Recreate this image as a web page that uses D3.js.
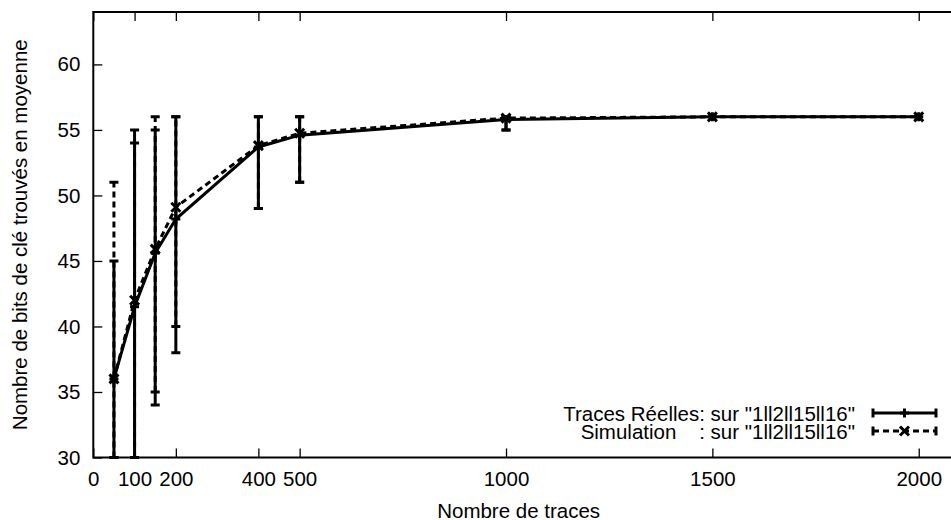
<!DOCTYPE html>
<html><head><meta charset="utf-8">
<script src="https://cdn.jsdelivr.net/npm/d3@7"></script>
<style>
html,body{margin:0;padding:0;background:#fff;}
svg{display:block;font-family:"Liberation Sans",Arial,Helvetica,sans-serif;}
</style></head>
<body>
<script>
// ---- data ----
const xValues   = [50, 100, 150, 200, 400, 500, 1000, 1500, 2000];
const realMean  = [36, 41.5, 45.6, 48.2, 53.7, 54.6, 55.8, 56, 56];
const realLow   = [30, 30, 34, 38, 49, 51, 55, 56, 56];
const realHigh  = [45, 55, 55, 56, 56, 56, 56, 56, 56];
const simMean   = [36, 42, 45.9, 49.1, 53.8, 54.75, 55.9, 56, 56];
const simLow    = [30, 30, 35, 40, 49, 51, 55, 56, 56];
const simHigh   = [51, 54, 56, 56, 56, 56, 56, 56, 56];
const xTicks    = [0, 100, 200, 400, 500, 1000, 1500, 2000];
const yTicks    = [30, 35, 40, 45, 50, 55, 60];
const xTitle    = "Nombre de traces";
const yTitle    = "Nombre de bits de clé trouvés en moyenne";
const legendLabels = ['Traces Réelles: sur "1ll2ll15ll16"', 'Simulation    : sur "1ll2ll15ll16"'];

const W = 951, H = 520;
const L = 93.3, R = 960, T = 12, B = 457.5;
const FS = 20.5;

const svg = d3.select("body").append("svg").attr("width", W).attr("height", H);
const x = d3.scaleLinear().domain([0, 2100]).range([L, R]);
const y = d3.scaleLinear().domain([30, 64]).range([B, T]);

svg.append("defs").append("clipPath").attr("id","clip")
  .append("rect").attr("x",L).attr("y",T-2).attr("width",R-L).attr("height",B-T+4);

// axes
function styleAxis(g, showText){
  g.select(".domain").remove();
  g.selectAll(".tick line").attr("stroke","#000").attr("stroke-width",1.3);
  g.selectAll(".tick text").attr("fill","#000").style("font-size",FS+"px");
  if(!showText) g.selectAll(".tick text").remove();
}
svg.append("g").attr("transform",`translate(0,${B})`)
  .call(d3.axisBottom(x).tickValues(xTicks).tickSize(-9).tickPadding(14).tickFormat(d3.format("d")))
  .call(g=>styleAxis(g,true));
svg.append("g").attr("transform",`translate(0,${T})`)
  .call(d3.axisTop(x).tickValues(xTicks).tickSize(-9).tickFormat(""))
  .call(g=>styleAxis(g,false));
svg.append("g").attr("transform",`translate(${L},0)`)
  .call(d3.axisLeft(y).tickValues(yTicks).tickSize(-9).tickPadding(13).tickFormat(d3.format("d")))
  .call(g=>styleAxis(g,true));
svg.append("g").attr("transform",`translate(${R},0)`)
  .call(d3.axisRight(y).tickValues(yTicks).tickSize(-9).tickFormat(""))
  .call(g=>styleAxis(g,false));

// border
svg.append("rect").attr("x",L).attr("y",T).attr("width",R-L).attr("height",B-T)
  .attr("fill","none").attr("stroke","#000").attr("stroke-width",2);

// titles
svg.append("text").attr("x",(L+R)/2 - 8).attr("y",510).attr("text-anchor","middle")
  .attr("dominant-baseline","central").style("font-size",FS+"px").text(xTitle);
svg.append("text").attr("transform",`translate(19,${(T+B)/2}) rotate(-90)`)
  .attr("text-anchor","middle").attr("dominant-baseline","central")
  .style("font-size",FS+"px").text(yTitle);

const plot = svg.append("g").attr("clip-path","url(#clip)");
const CAP = 4.5, SW = 3;

function drawSeries(mean, low, high, dash, marker){
  const g = plot.append("g");
  const pts = xValues.map((xv,i)=>({x:xv, m:mean[i], lo:low[i], hi:high[i]}));
  const st = s => s.attr("stroke","#000").attr("stroke-width",SW).attr("fill","none")
    .attr("stroke-dasharray",dash||null);
  pts.forEach(p=>{
    if(p.hi>p.lo){
      st(g.append("line").attr("x1",x(p.x)).attr("x2",x(p.x)).attr("y1",y(p.lo)).attr("y2",y(p.hi)));
      st(g.append("line").attr("x1",x(p.x)-CAP).attr("x2",x(p.x)+CAP).attr("y1",y(p.lo)).attr("y2",y(p.lo))).attr("stroke-dasharray",null);
      st(g.append("line").attr("x1",x(p.x)-CAP).attr("x2",x(p.x)+CAP).attr("y1",y(p.hi)).attr("y2",y(p.hi))).attr("stroke-dasharray",null);
    }
  });
  st(g.append("path").attr("d", d3.line().x(d=>x(d.x)).y(d=>y(d.m))(pts)));
  pts.forEach(p=>drawMarker(g, x(p.x), y(p.m), marker));
}
function drawMarker(g, cx, cy, type){
  const s = 4.5;
  const p = type==="plus"
    ? `M${cx-s},${cy}H${cx+s}M${cx},${cy-s}V${cy+s}`
    : `M${cx-s},${cy-s}L${cx+s},${cy+s}M${cx-s},${cy+s}L${cx+s},${cy-s}`;
  g.append("path").attr("d",p).attr("stroke","#000").attr("stroke-width",SW).attr("fill","none");
}

drawSeries(realMean, realLow, realHigh, null, "plus");
drawSeries(simMean, simLow, simHigh, "6,4", "cross");

// legend
const lg = svg.append("g");
const ly = [413, 431];
legendLabels.forEach((t,i)=>{
  lg.append("text").attr("x",855).attr("y",ly[i]).attr("text-anchor","end")
    .attr("dominant-baseline","central").style("font-size",FS+"px")
    .style("white-space","pre").attr("xml:space","preserve").text(t);
  const yy = ly[i];
  lg.append("line").attr("x1",873).attr("x2",936).attr("y1",yy).attr("y2",yy)
    .attr("stroke","#000").attr("stroke-width",SW).attr("stroke-dasharray", i? "6,4": null);
  lg.append("line").attr("x1",873).attr("x2",873).attr("y1",yy-CAP).attr("y2",yy+CAP).attr("stroke","#000").attr("stroke-width",SW);
  lg.append("line").attr("x1",936).attr("x2",936).attr("y1",yy-CAP).attr("y2",yy+CAP).attr("stroke","#000").attr("stroke-width",SW);
  drawMarker(lg, 904.5, yy, i? "cross":"plus");
});
</script>
</body></html>
